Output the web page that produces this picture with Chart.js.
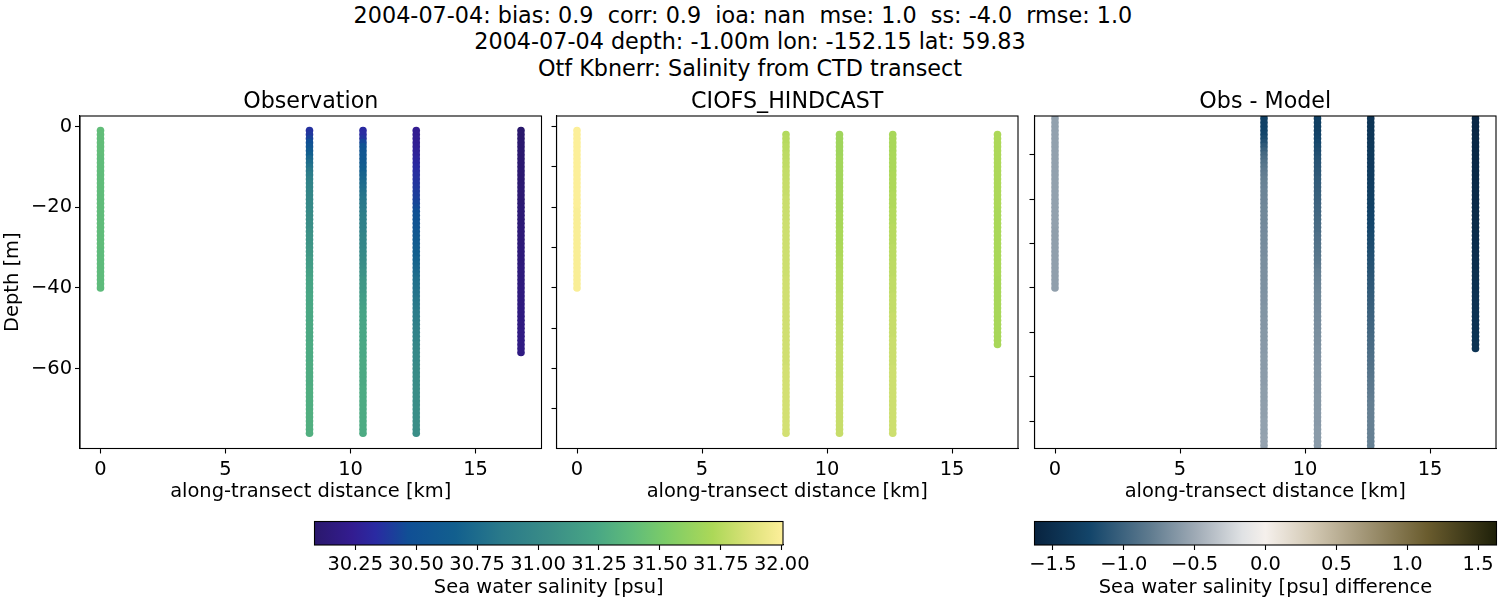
<!DOCTYPE html>
<html>
<head>
<meta charset="utf-8">
<script src="https://cdn.jsdelivr.net/npm/chart.js@4/dist/chart.umd.js"></script>
<style>
  body { margin: 0; background: #fff; width: 1500px; height: 600px; overflow: hidden; }
  canvas { position: absolute; left: 0; top: 0; }
  #suptitle {
    position: absolute; left: 0; top: 1.5px; width: 1500px; text-align: center;
    font: 22.3px/26.6px "DejaVu Sans"; color: #000;
  }
</style>
</head>
<body>
<div id="suptitle">
  <div>2004-07-04: bias: 0.9&nbsp; corr: 0.9&nbsp; ioa: nan&nbsp; mse: 1.0&nbsp; ss: -4.0&nbsp; rmse: 1.0&nbsp;&nbsp;</div>
  <div>2004-07-04 depth: -1.00m lon: -152.15 lat: 59.83</div>
  <div>Otf Kbnerr: Salinity from CTD transect</div>
</div>
<canvas id="panelObs" width="1500" height="600"></canvas>
<canvas id="panelModel" width="1500" height="600"></canvas>
<canvas id="panelDiff" width="1500" height="600"></canvas>
<canvas id="barSalinity" width="1500" height="600"></canvas>
<canvas id="barDiff" width="1500" height="600"></canvas>
<script>
// along-transect distance of the five casts [km]
const castDistance = [0, 8.36, 10.5, 12.63, 16.82];

const depthObs = [
  -1,-2,-3,-4,-5,-6,-7,-8,-9,-10,-11,-12,-13,-14,-15,-16,-17,-18,-19,-20,
  -21,-22,-23,-24,-25,-26,-27,-28,-29,-30,-31,-32,-33,-34,-35,-36,-37,-38,-39,-40,
  -41,-42,-43,-44,-45,-46,-47,-48,-49,-50,-51,-52,-53,-54,-55,-56,-57,-58,-59,-60,
  -61,-62,-63,-64,-65,-66,-67,-68,-69,-70,-71,-72,-73,-74,-75,-76];
const depthModelDeep = [
  -2,-3,-4,-5,-6,-7,-8,-9,-10,-11,-12,-13,-14,-15,-16,-17,-18,-19,-20,
  -21,-22,-23,-24,-25,-26,-27,-28,-29,-30,-31,-32,-33,-34,-35,-36,-37,-38,-39,-40,
  -41,-42,-43,-44,-45,-46,-47,-48,-49,-50,-51,-52,-53,-54,-55,-56,-57,-58,-59,-60,
  -61,-62,-63,-64,-65,-66,-67,-68,-69,-70,-71,-72,-73,-74,-75,-76];
const depthDiff = [
  3,2,1,0,-1,-2,-3,-4,-5,-6,-7,-8,-9,-10,-11,-12,-13,-14,-15,-16,-17,-18,-19,-20,
  -21,-22,-23,-24,-25,-26,-27,-28,-29,-30,-31,-32,-33,-34,-35,-36,-37,-38,-39,-40,
  -41,-42,-43,-44,-45,-46,-47,-48,-49,-50,-51,-52,-53,-54,-55,-56,-57,-58,-59,-60,
  -61,-62,-63,-64,-65,-66,-67,-68,-69,-70,-71,-72,-73,-74,-75,-76,-77,-78,-79,-80,-81];

// observed salinity [psu], one list per cast, top to bottom
const obsCast1 = [
  31.40,31.40,31.40,31.40,31.40,31.40,31.40,31.39,31.39,31.39,
  31.39,31.39,31.39,31.39,31.39,31.39,31.39,31.39,31.39,31.39,
  31.39,31.39,31.39,31.39,31.39,31.39,31.39,31.39,31.39,31.39,
  31.38,31.38,31.38,31.38,31.38,31.38,31.38,31.38,31.38,31.38];
const obsCast2 = [
  30.36,30.38,30.42,30.48,30.54,30.60,30.66,30.72,30.76,30.80,
  30.84,30.88,30.91,30.93,30.95,30.96,30.97,30.98,30.99,31.00,
  31.01,31.02,31.03,31.04,31.05,31.07,31.08,31.09,31.10,31.11,
  31.12,31.13,31.15,31.16,31.17,31.19,31.20,31.22,31.22,31.23,
  31.23,31.24,31.24,31.24,31.25,31.25,31.25,31.25,31.26,31.26,
  31.26,31.26,31.26,31.27,31.27,31.27,31.27,31.27,31.28,31.28,
  31.28,31.28,31.28,31.28,31.29,31.29,31.29,31.29,31.29,31.29,
  31.30,31.30,31.30,31.30,31.30,31.30];
const obsCast3 = [
  30.33,30.34,30.37,30.44,30.51,30.54,30.56,30.58,30.60,30.63,
  30.66,30.69,30.71,30.74,30.76,30.78,30.80,30.82,30.84,30.85,
  30.87,30.89,30.90,30.91,30.92,30.93,30.95,30.96,30.97,30.98,
  31.00,31.01,31.02,31.04,31.06,31.08,31.09,31.11,31.12,31.13,
  31.14,31.16,31.17,31.18,31.20,31.21,31.22,31.22,31.23,31.23,
  31.24,31.24,31.24,31.25,31.25,31.25,31.25,31.26,31.26,31.26,
  31.26,31.26,31.26,31.26,31.27,31.27,31.27,31.27,31.27,31.27,
  31.27,31.27,31.27,31.27,31.27,31.27];
const obsCast4 = [
  30.24,30.24,30.25,30.25,30.26,30.27,30.28,30.30,30.31,30.33,
  30.34,30.35,30.36,30.37,30.38,30.39,30.40,30.41,30.43,30.45,
  30.47,30.50,30.51,30.53,30.54,30.56,30.58,30.60,30.61,30.63,
  30.65,30.66,30.68,30.70,30.72,30.73,30.75,30.77,30.78,30.79,
  30.80,30.81,30.83,30.84,30.85,30.87,30.88,30.89,30.90,30.92,
  30.93,30.94,30.95,30.97,30.98,30.99,31.00,31.00,31.01,31.02,
  31.02,31.03,31.03,31.03,31.04,31.04,31.04,31.04,31.04,31.05,
  31.05,31.05,31.05,31.05,31.05,31.05];
const obsCast5 = [
  30.085,30.085,30.085,30.09,30.09,30.09,30.09,30.09,30.10,30.10,
  30.10,30.10,30.10,30.10,30.11,30.11,30.11,30.11,30.11,30.12,
  30.12,30.12,30.12,30.12,30.13,30.13,30.13,30.13,30.13,30.14,
  30.14,30.14,30.14,30.14,30.15,30.15,30.15,30.15,30.15,30.16,
  30.16,30.16,30.16,30.16,30.17,30.17,30.17,30.17,30.17,30.17,
  30.18,30.18,30.18,30.18,30.18,30.18];

// model salinity [psu]
const modelCast1 = [
  32.00,32.00,32.00,32.00,32.00,32.00,32.00,32.00,32.00,32.00,
  32.00,32.00,32.00,32.00,32.00,32.00,32.00,32.00,32.00,32.00,
  31.99,31.99,31.99,31.99,31.99,31.99,31.99,31.99,31.99,31.99,
  31.99,31.99,31.99,31.99,31.99,31.99,31.99,31.99,31.99,31.99];
const modelCast2 = [
  31.74,31.75,31.75,31.76,31.76,31.77,31.77,31.78,31.78,31.79,
  31.79,31.79,31.80,31.80,31.80,31.80,31.81,31.81,31.81,31.81,
  31.81,31.81,31.82,31.82,31.82,31.82,31.82,31.82,31.82,31.82,
  31.82,31.82,31.82,31.82,31.82,31.82,31.83,31.83,31.83,31.83,
  31.83,31.83,31.83,31.83,31.83,31.83,31.83,31.83,31.83,31.83,
  31.83,31.83,31.83,31.83,31.83,31.83,31.83,31.83,31.84,31.84,
  31.84,31.84,31.84,31.84,31.84,31.84,31.84,31.84,31.84,31.84,
  31.84,31.84,31.84,31.84,31.84];
const modelCast3 = [
  31.67,31.67,31.67,31.67,31.67,31.67,31.68,31.68,31.68,31.68,
  31.68,31.68,31.68,31.68,31.69,31.69,31.69,31.69,31.69,31.69,
  31.70,31.70,31.70,31.70,31.71,31.71,31.71,31.71,31.72,31.72,
  31.72,31.73,31.73,31.73,31.74,31.74,31.74,31.75,31.75,31.75,
  31.76,31.76,31.76,31.76,31.77,31.77,31.77,31.77,31.78,31.78,
  31.78,31.78,31.78,31.79,31.79,31.79,31.79,31.79,31.79,31.79,
  31.79,31.80,31.80,31.80,31.80,31.80,31.80,31.80,31.80,31.80,
  31.80,31.80,31.80,31.80,31.80];
const modelCast4 = [
  31.70,31.70,31.70,31.70,31.70,31.71,31.71,31.71,31.71,31.71,
  31.72,31.72,31.72,31.72,31.72,31.73,31.73,31.73,31.73,31.74,
  31.74,31.74,31.74,31.75,31.75,31.75,31.75,31.75,31.76,31.76,
  31.76,31.76,31.77,31.77,31.77,31.77,31.78,31.78,31.78,31.78,
  31.79,31.79,31.79,31.79,31.79,31.80,31.80,31.80,31.80,31.80,
  31.80,31.81,31.81,31.81,31.81,31.81,31.81,31.81,31.82,31.82,
  31.82,31.82,31.82,31.82,31.82,31.82,31.82,31.82,31.82,31.82,
  31.82,31.82,31.82,31.82,31.82];
const modelCast5 = [
  31.72,31.72,31.72,31.72,31.72,31.72,31.72,31.72,31.72,31.72,
  31.72,31.72,31.72,31.72,31.72,31.72,31.72,31.72,31.72,31.71,
  31.71,31.71,31.71,31.71,31.71,31.71,31.71,31.71,31.71,31.71,
  31.71,31.71,31.71,31.71,31.71,31.71,31.70,31.70,31.70,31.70,
  31.70,31.70,31.70,31.70,31.70,31.70,31.70,31.70,31.70,31.70,
  31.70,31.70,31.70];

// obs minus model [psu]
const diffCast1 = [
  -0.56,-0.56,-0.56,-0.56,-0.56,-0.56,-0.56,-0.56,-0.56,-0.56,-0.56,
  -0.56,-0.56,-0.56,-0.56,-0.56,-0.56,-0.56,-0.56,-0.56,-0.56,-0.56,
  -0.56,-0.56,-0.56,-0.56,-0.56,-0.56,-0.56,-0.57,-0.57,-0.57,-0.57,
  -0.57,-0.57,-0.57,-0.57,-0.57,-0.57,-0.57,-0.57,-0.57,-0.57,-0.57];
const diffCast2 = [
  -1.28,-1.28,-1.28,-1.27,-1.26,-1.24,-1.20,-1.15,-1.08,-1.02,-0.96,-0.92,-0.88,-0.85,-0.82,
  -0.80,-0.78,-0.77,-0.76,-0.75,-0.75,-0.74,-0.74,-0.73,-0.73,-0.72,-0.72,-0.72,-0.71,-0.71,
  -0.70,-0.70,-0.70,-0.69,-0.69,-0.69,-0.68,-0.68,-0.68,-0.67,-0.67,-0.67,-0.66,-0.66,-0.66,
  -0.65,-0.65,-0.65,-0.64,-0.64,-0.64,-0.63,-0.63,-0.63,-0.62,-0.62,-0.62,-0.61,-0.61,-0.61,
  -0.60,-0.60,-0.60,-0.60,-0.59,-0.59,-0.59,-0.59,-0.58,-0.58,-0.58,-0.58,-0.57,-0.57,-0.57,
  -0.57,-0.56,-0.56,-0.56,-0.56,-0.55,-0.55,-0.55,-0.55,-0.55];
const diffCast3 = [
  -1.30,-1.30,-1.30,-1.30,-1.29,-1.27,-1.25,-1.22,-1.20,-1.18,-1.16,-1.14,-1.12,-1.11,-1.10,
  -1.09,-1.07,-1.06,-1.05,-1.04,-1.03,-1.02,-1.00,-0.99,-0.98,-0.97,-0.96,-0.95,-0.94,-0.93,
  -0.91,-0.90,-0.89,-0.88,-0.87,-0.86,-0.85,-0.83,-0.81,-0.79,-0.78,-0.77,-0.76,-0.75,-0.74,
  -0.73,-0.73,-0.72,-0.71,-0.71,-0.70,-0.70,-0.69,-0.69,-0.68,-0.68,-0.67,-0.67,-0.66,-0.66,
  -0.65,-0.65,-0.65,-0.64,-0.64,-0.64,-0.63,-0.63,-0.63,-0.63,-0.62,-0.62,-0.62,-0.62,-0.61,
  -0.61,-0.61,-0.61,-0.60,-0.60,-0.60,-0.60,-0.60,-0.60,-0.60];
const diffCast4 = [
  -1.42,-1.42,-1.42,-1.41,-1.41,-1.40,-1.40,-1.39,-1.38,-1.38,-1.37,-1.37,-1.36,-1.36,-1.35,
  -1.34,-1.34,-1.33,-1.32,-1.32,-1.31,-1.30,-1.29,-1.28,-1.27,-1.26,-1.25,-1.24,-1.23,-1.22,
  -1.21,-1.20,-1.19,-1.18,-1.17,-1.16,-1.15,-1.14,-1.13,-1.12,-1.11,-1.10,-1.09,-1.08,-1.07,
  -1.06,-1.05,-1.04,-1.03,-1.02,-1.01,-1.00,-0.99,-0.98,-0.97,-0.96,-0.95,-0.94,-0.93,-0.92,
  -0.91,-0.90,-0.89,-0.88,-0.87,-0.86,-0.85,-0.84,-0.83,-0.82,-0.81,-0.80,-0.79,-0.79,-0.78,
  -0.78,-0.78,-0.78,-0.78,-0.78,-0.78,-0.78,-0.78,-0.78,-0.78];
const diffCast5 = [
  -1.57,-1.57,-1.57,-1.57,-1.57,-1.57,-1.56,-1.56,-1.56,-1.56,-1.56,-1.56,-1.56,-1.55,-1.55,
  -1.55,-1.55,-1.55,-1.54,-1.54,-1.54,-1.54,-1.54,-1.53,-1.53,-1.53,-1.53,-1.52,-1.52,-1.52,
  -1.51,-1.51,-1.51,-1.50,-1.50,-1.50,-1.49,-1.49,-1.49,-1.48,-1.48,-1.48,-1.47,-1.47,-1.47,
  -1.46,-1.46,-1.46,-1.46,-1.45,-1.45,-1.45,-1.45,-1.45,-1.45,-1.44,-1.44,-1.44,-1.44];

const xTicks = [0, 5, 10, 15];
const yTicksObs = [0, -20, -40, -60];
const yTicksModel = [0, -10, -20, -30, -40, -50, -60, -70];
const yTicksDiff = [-7, -18, -29, -40, -51, -62, -73];
const salinityTicks = [30.25, 30.5, 30.75, 31, 31.25, 31.5, 31.75, 32];
const diffTicks = [-1.5, -1, -0.5, 0, 0.5, 1, 1.5];
const salinityRange = [30.083, 32.005];
const diffRange = [-1.63, 1.63];

const halineStops = [
  [0, "#2a186c"], [0.08, "#331c90"], [0.13, "#2a2aa2"], [0.2, "#104f95"], [0.3, "#125f8e"],
  [0.4, "#2a7a8a"], [0.5, "#3a8d87"], [0.6, "#48a685"], [0.68, "#60bc7a"], [0.75, "#7ccc68"],
  [0.85, "#acd858"], [0.93, "#dde27a"], [1, "#fdef9a"]
];
const diffStops = [
  [0, "#08233f"], [0.12, "#13456a"], [0.25, "#5f7b8f"], [0.35, "#a0abb6"], [0.45, "#e0e2e4"],
  [0.5, "#f5f0ec"], [0.6, "#d3c9b4"], [0.7, "#a89c7e"], [0.85, "#6a5c2e"], [1, "#1e2009"]
];

const FONT = "'DejaVu Sans'";
const TICK_PT = 19.44;

function colorAt(stops, t) {
  t = Math.min(1, Math.max(0, t));
  for (let i = 1; i < stops.length; i++) {
    if (t <= stops[i][0]) {
      const f = (t - stops[i - 1][0]) / (stops[i][0] - stops[i - 1][0]);
      const a = parseInt(stops[i - 1][1].slice(1), 16);
      const b = parseInt(stops[i][1].slice(1), 16);
      const mix = (s) => Math.round(((a >> s) & 255) * (1 - f) + ((b >> s) & 255) * f);
      return `rgb(${mix(16)},${mix(8)},${mix(0)})`;
    }
  }
  return stops[stops.length - 1][1];
}

function minusLabel(value) {
  return String(value).replace("-", "\u2212");
}

const framePlugin = {
  id: "frame",
  afterDraw(chart) {
    const a = chart.chartArea;
    const ctx = chart.ctx;
    ctx.save();
    ctx.strokeStyle = "#000";
    ctx.lineWidth = 1.1;
    ctx.strokeRect(a.left, a.top, a.right - a.left, a.bottom - a.top);
    ctx.restore();
  },
};

const gradientPlugin = {
  id: "gradient",
  beforeDatasetsDraw(chart, args, opts) {
    const a = chart.chartArea;
    const x = chart.scales.x;
    const ctx = chart.ctx;
    const g = ctx.createLinearGradient(x.getPixelForValue(x.min), 0, x.getPixelForValue(x.max), 0);
    opts.stops.forEach((s) => g.addColorStop(s[0], s[1]));
    ctx.fillStyle = g;
    ctx.fillRect(a.left, a.top, a.right - a.left, a.bottom - a.top);
  },
};

function axisStyle() {
  return {
    grid: { drawOnChartArea: false, drawTicks: true, tickLength: 5, tickWidth: 1.1, tickColor: "#000" },
    border: { color: "#000", width: 1.1 },
  };
}

function fixedTicks(values) {
  return (scale) => { scale.ticks = values.map((v) => ({ value: v })); };
}

function drawPanel(id, title, left, right, casts, stops, range, yTicks, showY) {
  new Chart(document.getElementById(id), {
    type: "scatter",
    data: {
      datasets: casts.map((c, i) => ({
        data: c.values.map((v, j) => ({ x: castDistance[i], y: c.depths[j] })),
        backgroundColor: c.values.map((v) => colorAt(stops, (v - range[0]) / (range[1] - range[0]))),
        pointRadius: 3.8,
        pointBorderWidth: 0,
        clip: 0,
      })),
    },
    plugins: [framePlugin],
    options: {
      responsive: false,
      animation: false,
      devicePixelRatio: 1,
      events: [],
      layout: { padding: { left: 0, right: 1500 - right, top: 0, bottom: 96 } },
      plugins: {
        legend: { display: false },
        tooltip: { enabled: false },
        title: {
          display: true,
          text: title,
          fullSize: false,
          color: "#000",
          font: { family: FONT, size: 22.2, weight: "normal", lineHeight: 1 },
          padding: { top: 91.5, bottom: 2.3 },
        },
      },
      scales: {
        x: {
          type: "linear",
          min: -0.82,
          max: 17.64,
          afterBuildTicks: fixedTicks(xTicks),
          afterFit: (s) => { s.height = 55.5; },
          ...axisStyle(),
          ticks: { color: "#000", maxRotation: 0, autoSkip: false, padding: 5, font: { family: FONT, size: TICK_PT } },
          title: { display: true, text: "along-transect distance [km]", color: "#000", padding: 0,
                   font: { family: FONT, size: TICK_PT, lineHeight: 1.2 } },
        },
        y: {
          type: "linear",
          min: -79.8,
          max: 2.6,
          afterBuildTicks: fixedTicks(yTicks),
          afterFit: (s) => { s.width = left; },
          ...axisStyle(),
          ticks: { display: showY, color: "#000", autoSkip: false, padding: 3,
                   callback: minusLabel, font: { family: FONT, size: TICK_PT } },
          title: { display: showY, text: "Depth [m]", color: "#000", padding: { top: 1, bottom: 0 },
                   font: { family: FONT, size: TICK_PT, lineHeight: 1.2 } },
        },
      },
    },
  });
}

function drawColorbar(id, left, right, range, ticks, stops, label, digits) {
  new Chart(document.getElementById(id), {
    type: "scatter",
    data: { datasets: [] },
    plugins: [gradientPlugin, framePlugin],
    options: {
      responsive: false,
      animation: false,
      devicePixelRatio: 1,
      events: [],
      layout: { padding: { left: left, right: 1500 - right, top: 521.5, bottom: 0 } },
      plugins: { legend: { display: false }, tooltip: { enabled: false }, gradient: { stops: stops } },
      scales: {
        x: {
          type: "linear",
          min: range[0],
          max: range[1],
          afterBuildTicks: fixedTicks(ticks),
          afterFit: (s) => { s.height = 55; },
          ...axisStyle(),
          ticks: { color: "#000", maxRotation: 0, autoSkip: false, padding: 3,
                   callback: (v) => minusLabel(v.toFixed(digits)), font: { family: FONT, size: TICK_PT } },
          title: { display: true, text: label, color: "#000", padding: 0,
                   font: { family: FONT, size: TICK_PT, lineHeight: 1.2 } },
        },
        y: { display: false },
      },
    },
  });
}

drawPanel("panelObs", "Observation", 80, 541.5, [
  { depths: depthObs, values: obsCast1 },
  { depths: depthObs, values: obsCast2 },
  { depths: depthObs, values: obsCast3 },
  { depths: depthObs, values: obsCast4 },
  { depths: depthObs, values: obsCast5 },
], halineStops, salinityRange, yTicksObs, true);

drawPanel("panelModel", "CIOFS_HINDCAST", 556.5, 1018, [
  { depths: depthObs, values: modelCast1 },
  { depths: depthModelDeep, values: modelCast2 },
  { depths: depthModelDeep, values: modelCast3 },
  { depths: depthModelDeep, values: modelCast4 },
  { depths: depthModelDeep, values: modelCast5 },
], halineStops, salinityRange, yTicksModel, false);

drawPanel("panelDiff", "Obs - Model", 1034.5, 1496, [
  { depths: depthDiff, values: diffCast1 },
  { depths: depthDiff, values: diffCast2 },
  { depths: depthDiff, values: diffCast3 },
  { depths: depthDiff, values: diffCast4 },
  { depths: depthDiff, values: diffCast5 },
], diffStops, diffRange, yTicksDiff, false);

drawColorbar("barSalinity", 314.5, 783, salinityRange, salinityTicks, halineStops, "Sea water salinity [psu]", 2);
drawColorbar("barDiff", 1034.5, 1496.5, diffRange, diffTicks, diffStops, "Sea water salinity [psu] difference", 1);
</script>
</body>
</html>
